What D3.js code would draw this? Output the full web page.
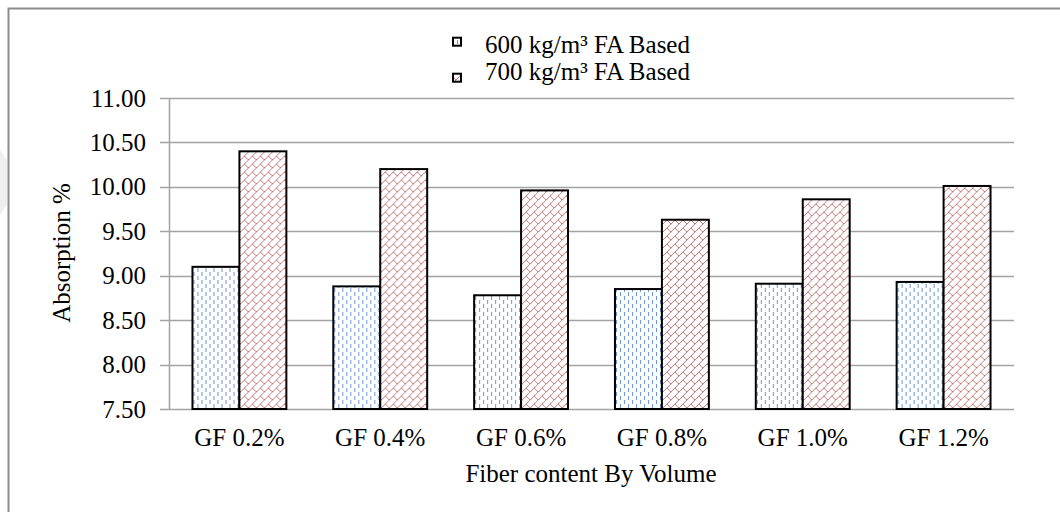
<!DOCTYPE html>
<html>
<head>
<meta charset="utf-8">
<script src="https://cdn.jsdelivr.net/npm/d3@7/dist/d3.min.js"></script>
<style>
  html, body { margin: 0; padding: 0; background: #fff; }
  svg { display: block; }
  text { font-family: "Liberation Serif", "Times New Roman", serif; fill: #000; }
</style>
</head>
<body>
<svg id="chart" width="1060" height="512"></svg>
<script>
// Water absorption by glass-fibre content for two foamed-concrete densities
const categories = ["GF 0.2%", "GF 0.4%", "GF 0.6%", "GF 0.8%", "GF 1.0%", "GF 1.2%"];
const seriesNames = ["600 kg/m\u00B3 FA Based", "700 kg/m\u00B3 FA Based"];
const fa600 = [9.10, 8.88, 8.78, 8.85, 8.91, 8.93];
const fa700 = [10.40, 10.20, 9.96, 9.63, 9.86, 10.01];
const yTicks = [7.50, 8.00, 8.50, 9.00, 9.50, 10.00, 10.50, 11.00];
const xTitle = "Fiber content By Volume";
const yTitle = "Absorption %";

const svg = d3.select("#chart");
const W = 1060, H = 512;
const plot = { left: 169, right: 1014, top: 98, bottom: 409 };

svg.append("rect").attr("width", W).attr("height", H).attr("fill", "#fff");

// faint shading at the left page edge
svg.append("path")
  .attr("d", "M0,150 L7,160 L7,205 L0,215 Z")
  .attr("fill", "#efefef");

// outer chart frame (top and left edges)
svg.append("path")
  .attr("d", `M8.5,${H} L8.5,8.5 L${W},8.5`)
  .attr("fill", "none")
  .attr("stroke", "#8c8c8c")
  .attr("stroke-width", 2);

// fill patterns
const defs = svg.append("defs");
const pBlue = defs.append("pattern")
  .attr("id", "dashVert")
  .attr("patternUnits", "userSpaceOnUse")
  .attr("width", 8).attr("height", 8);
pBlue.append("rect").attr("width", 8).attr("height", 8).attr("fill", "#fff");
pBlue.append("path")
  .attr("d", "M1.5,0 V4 M5.5,4 V8")
  .attr("stroke", "#6896d6").attr("stroke-width", 1);

const pRed = defs.append("pattern")
  .attr("id", "diagBrick")
  .attr("patternUnits", "userSpaceOnUse")
  .attr("width", 8).attr("height", 8);
pRed.append("rect").attr("width", 8).attr("height", 8).attr("fill", "#fff");
pRed.append("path")
  .attr("d", "M-1,9 L9,-1 M4,4 L9,9 M-1,-1 L0,0")
  .attr("stroke", "#c46a6a").attr("stroke-width", 0.9);

const fills = ["url(#dashVert)", "url(#diagBrick)"];

// scales
const x = d3.scaleBand()
  .domain(categories)
  .range([plot.left, plot.right])
  .paddingInner(1 / 3)
  .paddingOuter(1 / 6);
const xs = d3.scaleBand()
  .domain([0, 1])
  .range([0, x.bandwidth()]);
const y = d3.scaleLinear()
  .domain([7.5, 11.0])
  .range([plot.bottom, plot.top]);

// horizontal gridlines with tick marks left of the axis
svg.append("g")
  .selectAll("line")
  .data(yTicks)
  .join("line")
  .attr("x1", plot.left - 9)
  .attr("x2", plot.right)
  .attr("y1", d => Math.round(y(d)) + 0.5)
  .attr("y2", d => Math.round(y(d)) + 0.5)
  .attr("stroke", "#a3a3a3")
  .attr("stroke-width", 1.5);

// vertical axis line
svg.append("line")
  .attr("x1", plot.left + 0.5).attr("x2", plot.left + 0.5)
  .attr("y1", y(11.0)).attr("y2", y(7.5))
  .attr("stroke", "#a3a3a3").attr("stroke-width", 1.5);

// y tick labels
svg.append("g")
  .selectAll("text")
  .data(yTicks)
  .join("text")
  .attr("x", 146)
  .attr("y", d => y(d))
  .attr("dy", "0.34em")
  .attr("text-anchor", "end")
  .attr("font-size", 25)
  .text(d => d3.format(".2f")(d));

// bars
const rows = categories.map((c, i) => ({ cat: c, vals: [fa600[i], fa700[i]] }));
const groups = svg.append("g")
  .selectAll("g")
  .data(rows)
  .join("g")
  .attr("transform", d => `translate(${x(d.cat)},0)`);
groups.selectAll("rect")
  .data(d => d.vals.map((v, s) => ({ v, s })))
  .join("rect")
  .attr("x", d => xs(d.s))
  .attr("y", d => y(d.v))
  .attr("width", xs.bandwidth())
  .attr("height", d => y(7.5) - y(d.v))
  .attr("fill", d => fills[d.s])
  .attr("stroke", "#000")
  .attr("stroke-width", 2);

// category labels
svg.append("g")
  .selectAll("text")
  .data(categories)
  .join("text")
  .attr("x", d => x(d) + x.bandwidth() / 2)
  .attr("y", 446)
  .attr("text-anchor", "middle")
  .attr("font-size", 25)
  .text(d => d);

// axis titles
svg.append("text")
  .attr("x", 591).attr("y", 482)
  .attr("text-anchor", "middle")
  .attr("font-size", 25)
  .text(xTitle);
svg.append("text")
  .attr("transform", "translate(70,253) rotate(-90)")
  .attr("text-anchor", "middle")
  .attr("font-size", 25)
  .text(yTitle);

// legend
const legendRows = [
  { name: seriesNames[0], fill: fills[0], box: 37.7, base: 53 },
  { name: seriesNames[1], fill: fills[1], box: 73.7, base: 80 }
];
const lg = svg.append("g");
lg.selectAll("rect")
  .data(legendRows)
  .join("rect")
  .attr("x", 453).attr("y", d => d.box)
  .attr("width", 8).attr("height", 8)
  .attr("fill", d => d.fill)
  .attr("stroke", "#000").attr("stroke-width", 2);
lg.selectAll("text")
  .data(legendRows)
  .join("text")
  .attr("x", 485).attr("y", d => d.base)
  .attr("font-size", 25)
  .text(d => d.name);
</script>
</body>
</html>
